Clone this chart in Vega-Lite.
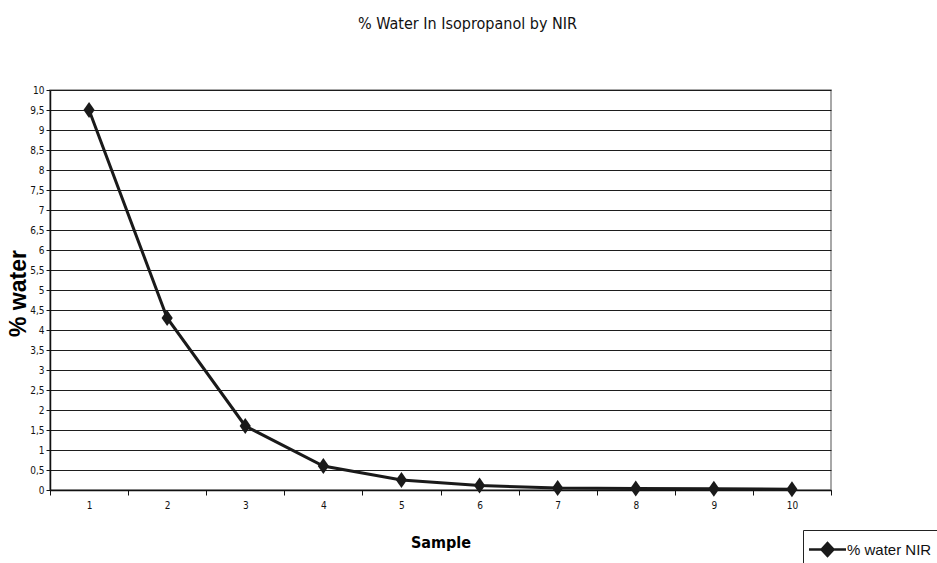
{
  "$schema": "https://vega.github.io/schema/vega-lite/v6.json",
  "width": 781,
  "height": 400,
  "autosize": {"type": "none"},
  "padding": {"left": 50, "top": 90, "right": 106, "bottom": 73},
  "background": "white",
  "title": {
    "text": "% Water In Isopropanol by NIR",
    "font": "DejaVu Sans Condensed, Liberation Sans",
    "fontSize": 16,
    "fontWeight": "normal",
    "color": "#111",
    "anchor": "middle",
    "dx": 27,
    "offset": 53
  },
  "config": {
    "view": {"stroke": "#8c8c8c", "strokeWidth": 1.5},
    "axis": {
      "labelFont": "DejaVu Sans Condensed, Liberation Sans",
      "labelFontSize": 10,
      "labelColor": "#111",
      "titleFont": "Liberation Sans",
      "titleFontWeight": "bold",
      "titleColor": "#000",
      "domainColor": "#111",
      "domainWidth": 1.5,
      "tickColor": "#111",
      "tickSize": 5
    }
  },
  "data": {
    "values": [
      {"sample": 1, "water": 9.5, "series": "% water NIR"},
      {"sample": 2, "water": 4.3, "series": "% water NIR"},
      {"sample": 3, "water": 1.6, "series": "% water NIR"},
      {"sample": 4, "water": 0.6, "series": "% water NIR"},
      {"sample": 5, "water": 0.25, "series": "% water NIR"},
      {"sample": 6, "water": 0.11, "series": "% water NIR"},
      {"sample": 7, "water": 0.05, "series": "% water NIR"},
      {"sample": 8, "water": 0.04, "series": "% water NIR"},
      {"sample": 9, "water": 0.03, "series": "% water NIR"},
      {"sample": 10, "water": 0.02, "series": "% water NIR"}
    ]
  },
  "encoding": {
    "x": {
      "field": "sample",
      "type": "ordinal",
      "scale": {"paddingInner": 0, "paddingOuter": 0},
      "axis": {
        "title": "Sample",
        "titleFont": "DejaVu Sans Condensed, Liberation Sans",
        "titleFontSize": 16,
        "titlePadding": 24,
        "labelAngle": 0,
        "labelPadding": 5,
        "tickBand": "extent",
        "grid": false
      }
    },
    "y": {
      "field": "water",
      "type": "quantitative",
      "scale": {"domain": [0, 10], "nice": false},
      "axis": {
        "title": "% water",
        "titleFontSize": 23,
        "titleAngle": -90,
        "titleX": -32,
        "titleY": 203,
        "titleAlign": "center",
        "titleBaseline": "middle",
        "values": [0, 0.5, 1, 1.5, 2, 2.5, 3, 3.5, 4, 4.5, 5, 5.5, 6, 6.5, 7, 7.5, 8, 8.5, 9, 9.5, 10],
        "labelExpr": "replace(toString(datum.value), '.', ',')",
        "labelPadding": 2,
        "tickSize": 4,
        "grid": true,
        "gridColor": "#1e1e1e",
        "gridWidth": 1
      }
    },
    "color": {
      "field": "series",
      "type": "nominal",
      "scale": {"range": ["#1a1a1a"]},
      "legend": {
        "title": null,
        "orient": "none",
        "legendX": 753,
        "legendY": 440,
        "strokeColor": "#222",
        "fillColor": "white",
        "padding": 8,
        "symbolType": "M-1.85,0L1.85,0M-0.6,0L0,-0.65L0.6,0L0,0.65Z",
        "symbolSize": 400,
        "symbolOffset": 5,
        "symbolStrokeWidth": 2.5,
        "symbolFillColor": "#1a1a1a",
        "symbolStrokeColor": "#1a1a1a",
        "labelFont": "Liberation Sans",
        "labelFontSize": 15,
        "labelColor": "#111",
        "labelOffset": 8
      }
    }
  },
  "layer": [
    {"mark": {"type": "line", "strokeWidth": 3}},
    {
      "mark": {
        "type": "point",
        "filled": true,
        "opacity": 1,
        "shape": "M-0.7,0L0,-1L0.7,0L0,1Z",
        "size": 256
      }
    }
  ]
}
